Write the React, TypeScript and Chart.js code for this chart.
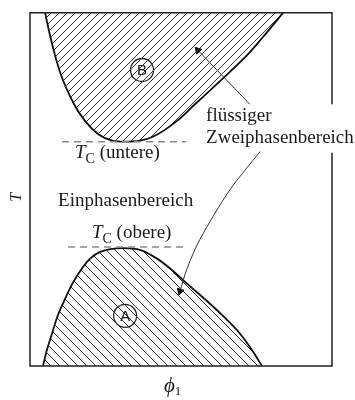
import React, { useEffect, useRef } from "react";
import { Chart, registerables } from "chart.js";
Chart.register(...registerables);

// Region B (upper two-phase region, hatched above the curve)
const PHI_B = [0.05, 0.0685, 0.099, 0.146, 0.182, 0.225, 0.272, 0.315, 0.364, 0.407, 0.487, 0.546, 0.606, 0.662, 0.719, 0.768, 0.838];
const T_B = [1.0, 0.928, 0.833, 0.741, 0.694, 0.657, 0.638, 0.635, 0.638, 0.649, 0.694, 0.741, 0.788, 0.833, 0.88, 0.928, 1.0];
// Region A (lower two-phase region, hatched below the curve)
const PHI_A = [0.043, 0.056, 0.073, 0.089, 0.113, 0.139, 0.172, 0.199, 0.232, 0.308, 0.364, 0.421, 0.464, 0.523, 0.586, 0.646, 0.695, 0.735, 0.768];
const T_A = [0, 0.045, 0.092, 0.136, 0.184, 0.231, 0.276, 0.304, 0.323, 0.334, 0.329, 0.304, 0.276, 0.231, 0.184, 0.136, 0.092, 0.045, 0];
// critical temperatures (dashed lines)
const TC_LOWER = 0.635;
const TC_LOWER_PHI = [0.106, 0.517];
const TC_UPPER = 0.337;
const TC_UPPER_PHI = [0.126, 0.52];
// arrows from the "flüssiger Zweiphasenbereich" label
const ARROW1_PHI = [0.728, 0.556];
const ARROW1_T = [0.741, 0.894];
const ARROW2_PHI = [0.762, 0.662, 0.563, 0.52, 0.497];
const ARROW2_T = [0.607, 0.499, 0.359, 0.276, 0.212];
// region markers
const REGION_NAMES = ["A", "B"];
const REGION_PHI = [0.315, 0.371];
const REGION_T = [0.142, 0.838];

const X_TITLE = "ϕ";
const X_TITLE_SUB = "1";
const Y_TITLE = "T";

const SERIF = '"Liberation Serif", "DejaVu Serif", serif';

function pts(xs: number[], ys: number[]) {
  return xs.map((x, i) => ({ x, y: ys[i] }));
}

function hatch(size: number, dir: string, color: string): CanvasPattern | string {
  const c = document.createElement("canvas");
  c.width = size;
  c.height = size;
  const g = c.getContext("2d");
  if (!g) return color;
  g.strokeStyle = color;
  g.lineWidth = 1;
  g.beginPath();
  if (dir === "/") {
    g.moveTo(-1, 1); g.lineTo(1, -1);
    g.moveTo(0, size); g.lineTo(size, 0);
    g.moveTo(size - 1, size + 1); g.lineTo(size + 1, size - 1);
  } else {
    g.moveTo(0, 0); g.lineTo(size, size);
    g.moveTo(-1, size - 1); g.lineTo(1, size + 1);
    g.moveTo(size - 1, -1); g.lineTo(size + 1, 1);
  }
  g.stroke();
  return g.createPattern(c, "repeat") || color;
}

// label layout
const TEXTS = [
  { kind: "plain", text: "flüssiger", phi: 0.583, t: 0.694 },
  { kind: "plain", text: "Zweiphasenbereich", phi: 0.583, t: 0.630 },
  { kind: "plain", text: "Einphasenbereich", phi: 0.093, t: 0.454 },
  { kind: "tc", text: " (untere)", phi: 0.149, t: 0.588 },
  { kind: "tc", text: " (obere)", phi: 0.205, t: 0.362 },
];

const annotations = {
  id: "annotations",
  afterDatasetsDraw(chart: any) {
    const { ctx, chartArea: a, scales } = chart;
    const xs = scales.x;
    const ys = scales.y;
    ctx.save();
    // frame
    ctx.strokeStyle = "#222";
    ctx.lineWidth = 1.5;
    const gapTop = ys.getPixelForValue(0.741);
    const gapBot = ys.getPixelForValue(0.604);
    ctx.beginPath();
    ctx.moveTo(a.right, gapTop);
    ctx.lineTo(a.right, a.top);
    ctx.lineTo(a.left, a.top);
    ctx.lineTo(a.left, a.bottom);
    ctx.lineTo(a.right, a.bottom);
    ctx.lineTo(a.right, gapBot);
    ctx.stroke();

    ctx.fillStyle = "#1a1a1a";
    ctx.textBaseline = "alphabetic";
    ctx.textAlign = "left";
    for (const t of TEXTS) {
      let x = xs.getPixelForValue(t.phi);
      const y = ys.getPixelForValue(t.t);
      if (t.kind === "plain") {
        ctx.font = `19px ${SERIF}`;
        ctx.fillText(t.text, x, y);
      } else {
        ctx.font = `italic 19px ${SERIF}`;
        ctx.fillText("T", x, y);
        x += ctx.measureText("T").width;
        ctx.font = `14px ${SERIF}`;
        ctx.fillText("C", x, y + 5);
        x += ctx.measureText("C").width;
        ctx.font = `19px ${SERIF}`;
        ctx.fillText(t.text, x, y);
      }
    }
    // region letters
    ctx.font = `15px "Liberation Sans", Arial, sans-serif`;
    ctx.textAlign = "center";
    ctx.textBaseline = "middle";
    REGION_NAMES.forEach((n, i) => {
      ctx.fillText(n, xs.getPixelForValue(REGION_PHI[i]), ys.getPixelForValue(REGION_T[i]) + 1);
    });
    // axis titles
    ctx.save();
    ctx.translate(a.left - 13, (a.top + a.bottom) / 2 + 8);
    ctx.rotate(-Math.PI / 2);
    ctx.font = `italic 16px ${SERIF}`;
    ctx.fillText(Y_TITLE, 0, 0);
    ctx.restore();
    ctx.textAlign = "left";
    ctx.textBaseline = "alphabetic";
    ctx.font = `italic 21px ${SERIF}`;
    const px = (a.left + a.right) / 2 - 17;
    ctx.fillText(X_TITLE, px, a.bottom + 26);
    const w = ctx.measureText(X_TITLE).width;
    ctx.font = `13px ${SERIF}`;
    ctx.fillText(X_TITLE_SUB, px + w, a.bottom + 29);
    ctx.restore();
  },
};

export default function App() {
  const ref = useRef<HTMLCanvasElement | null>(null);
  useEffect(() => {
    if (!ref.current) return;
    const lastIdx = (n: number, r: number) => Array.from({ length: n }, (_, i) => (i === n - 1 ? r : 0));
    const chart = new Chart(ref.current, {
      type: "line",
      data: {
        datasets: [
          {
            data: pts(TC_LOWER_PHI, [TC_LOWER, TC_LOWER]),
            borderColor: "#8a8a8a",
            borderWidth: 1.6,
            borderDash: [7, 5],
            pointRadius: 0,
            fill: false,
          },
          {
            data: pts(TC_UPPER_PHI, [TC_UPPER, TC_UPPER]),
            borderColor: "#8a8a8a",
            borderWidth: 1.6,
            borderDash: [7, 5],
            pointRadius: 0,
            fill: false,
          },
          {
            data: pts(PHI_B, T_B),
            borderColor: "#111",
            borderWidth: 1.8,
            backgroundColor: hatch(8, "/", "#333") as any,
            fill: "end",
            pointRadius: 0,
            cubicInterpolationMode: "monotone",
          },
          {
            data: pts(PHI_A, T_A),
            borderColor: "#111",
            borderWidth: 1.8,
            backgroundColor: hatch(9, "\\", "#333") as any,
            fill: "start",
            pointRadius: 0,
            cubicInterpolationMode: "monotone",
          },
          {
            data: pts(ARROW1_PHI, ARROW1_T),
            borderColor: "#333",
            borderWidth: 1,
            pointRadius: lastIdx(2, 4),
            pointStyle: "triangle",
            pointRotation: -43,
            pointBackgroundColor: "#111",
            pointBorderColor: "#111",
            fill: false,
          },
          {
            data: pts(ARROW2_PHI, ARROW2_T),
            borderColor: "#333",
            borderWidth: 1,
            tension: 0.3,
            pointRadius: lastIdx(5, 4),
            pointStyle: "triangle",
            pointRotation: 197,
            pointBackgroundColor: "#111",
            pointBorderColor: "#111",
            fill: false,
          },
          {
            data: pts(REGION_PHI, REGION_T),
            showLine: false,
            pointStyle: "circle",
            pointRadius: 11.5,
            pointBackgroundColor: "#fff",
            pointBorderColor: "#222",
            pointBorderWidth: 1.3,
            fill: false,
          },
        ] as any,
      },
      options: {
        animation: false,
        responsive: true,
        maintainAspectRatio: false,
        layout: { padding: { left: 30, top: 7, right: 23, bottom: 34 } },
        plugins: { legend: { display: false }, tooltip: { enabled: false } },
        scales: {
          x: { type: "linear", min: 0, max: 1, display: false },
          y: { type: "linear", min: 0, max: 1, display: false },
        },
      },
      plugins: [annotations],
    });
    return () => chart.destroy();
  }, []);
  return (
    <div style={{ position: "fixed", left: 0, top: 0, width: 355, height: 400, background: "#fff" }}>
      <canvas ref={ref} />
    </div>
  );
}
